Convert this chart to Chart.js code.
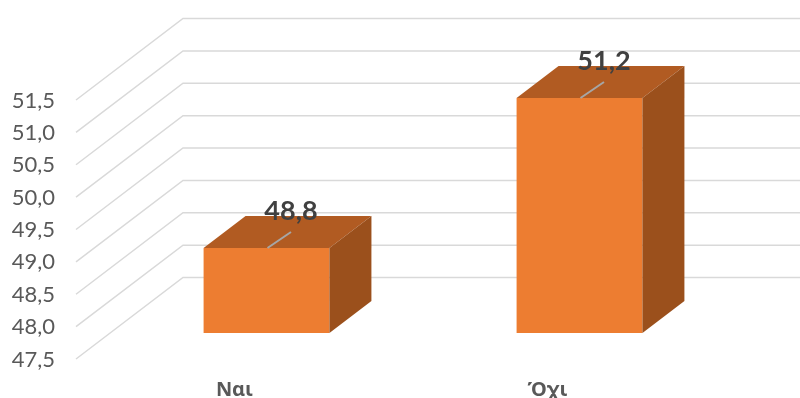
<!DOCTYPE html>
<html>
<head>
<meta charset="utf-8">
<style>
  html, body { margin: 0; padding: 0; background: #fff; }
  #wrap { position: relative; width: 800px; height: 398px; overflow: hidden; }
  canvas { display: block; }
</style>
<script src="https://cdn.jsdelivr.net/npm/chart.js@4"></script>
</head>
<body>
<div id="wrap"><canvas id="chart"></canvas></div>
<script>
const categories = ['Ναι', 'Όχι'];
const values = [48.8, 51.2];

const commaFormat = v => v.toFixed(1).replace('.', ',');

// fake 3D: the walls sit behind the plot, bars stand a bit further back than the axis
const wall = { startX: 76, dx: 107, dy: 81.5 };
const box = { dx: 42, dy: 32 };
const leader = { dx: 23.5, dy: 16 };
const labelOffset = { dx: 24.5, dy: 37 };

const threeD = {
  id: 'threeD',
  beforeDatasetsDraw(chart) {
    const { ctx, scales } = chart;
    ctx.save();
    ctx.strokeStyle = '#d9d9d9';
    ctx.lineWidth = 1.5;
    scales.y.ticks.forEach(t => {
      const y = scales.y.getPixelForValue(t.value);
      ctx.beginPath();
      ctx.moveTo(wall.startX, y);
      ctx.lineTo(wall.startX + wall.dx, y - wall.dy);
      ctx.lineTo(800, y - wall.dy);
      ctx.stroke();
    });
    ctx.restore();
  },
  afterDatasetsDraw(chart) {
    const { ctx } = chart;
    const bars = chart.getDatasetMeta(0).data;
    ctx.save();
    bars.forEach((bar, i) => {
      const left = bar.x - bar.width / 2;
      const right = bar.x + bar.width / 2;

      // top face
      ctx.fillStyle = '#b15b22';
      ctx.beginPath();
      ctx.moveTo(left, bar.y);
      ctx.lineTo(left + box.dx, bar.y - box.dy);
      ctx.lineTo(right + box.dx, bar.y - box.dy);
      ctx.lineTo(right, bar.y);
      ctx.closePath();
      ctx.fill();

      // side face
      ctx.fillStyle = '#9b501c';
      ctx.beginPath();
      ctx.moveTo(right, bar.y);
      ctx.lineTo(right + box.dx, bar.y - box.dy);
      ctx.lineTo(right + box.dx, bar.base - box.dy);
      ctx.lineTo(right, bar.base);
      ctx.closePath();
      ctx.fill();

      // leader line + value
      ctx.strokeStyle = '#a6a6a6';
      ctx.lineWidth = 2;
      ctx.beginPath();
      ctx.moveTo(bar.x + 1, bar.y);
      ctx.lineTo(bar.x + 1 + leader.dx, bar.y - leader.dy);
      ctx.stroke();

      ctx.fillStyle = '#404040';
      ctx.font = 'bold 27px Lato, "Noto Sans"';
      ctx.textAlign = 'center';
      ctx.textBaseline = 'middle';
      ctx.fillText(commaFormat(values[i]), bar.x + labelOffset.dx, bar.y - labelOffset.dy);
    });
    ctx.restore();
  }
};

new Chart(document.getElementById('chart'), {
  type: 'bar',
  data: {
    labels: categories,
    datasets: [{
      data: values,
      yAxisID: 'yBar',
      base: 47.44,
      backgroundColor: '#ed7d31',
      categoryPercentage: 1,
      barPercentage: 0.402,
      clip: false
    }]
  },
  options: {
    responsive: true,
    maintainAspectRatio: false,
    animation: false,
    layout: { padding: { top: 100, right: 64, left: 0, bottom: 0 } },
    plugins: { legend: { display: false }, tooltip: { enabled: false } },
    scales: {
      x: {
        grid: { display: false },
        border: { display: false },
        afterFit(axis) { axis.height = 39; },
        ticks: {
          padding: 11,
          labelOffset: -32,
          maxRotation: 0,
          color: '#595959',
          font: { family: '"Noto Sans"', size: 20, weight: 'bold' }
        }
      },
      y: {
        min: 47.5,
        max: 51.5,
        // tick marks are invisible, they only push the labels away from the plot
        grid: { color: 'transparent', tickLength: 35 },
        border: { display: false },
        afterFit(axis) { axis.width = 110; },
        ticks: {
          stepSize: 0.5,
          padding: 20,
          labelOffset: 0.5,
          color: '#595959',
          font: { family: 'Lato, "Noto Sans"', size: 22 },
          callback: commaFormat
        }
      },
      // bars are on a deeper plane, so they get their own slightly smaller scale
      yBar: {
        display: false,
        min: 47.024,
        max: 51.168
      }
    }
  },
  plugins: [threeD]
});
</script>
</body>
</html>
